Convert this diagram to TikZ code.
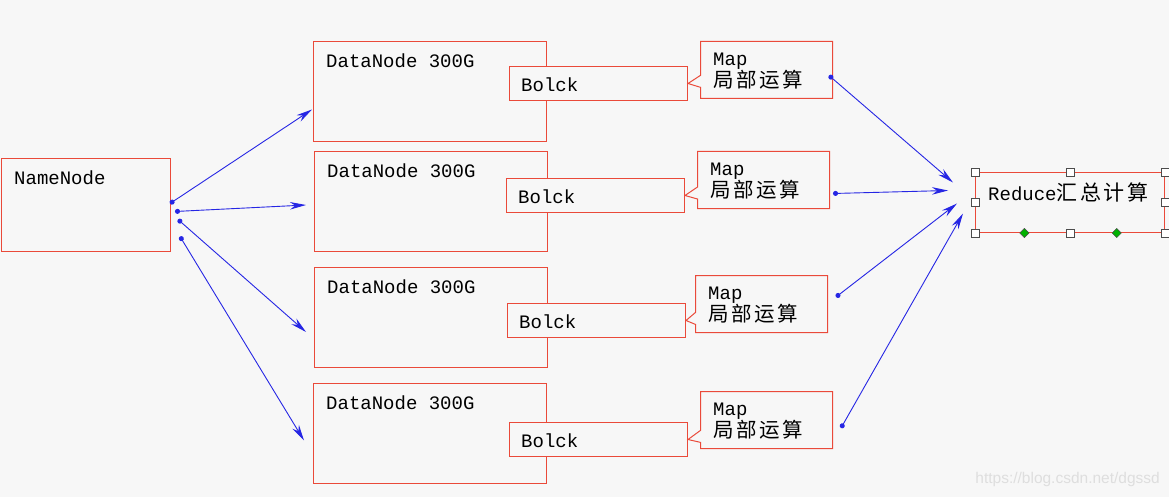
\documentclass[tikz,border=0pt]{standalone}
\usepackage{fontspec}
\newfontfamily\cour{Liberation Mono}
\newfontfamily\cjk[LetterSpace=12]{Noto Sans CJK SC}
\newfontfamily\wmark{Liberation Sans}
\usetikzlibrary{positioning,calc,arrows.meta,shapes.callouts}

\definecolor{boxred}{RGB}{234,74,58}
\definecolor{arrblue}{RGB}{38,38,228}
\definecolor{paper}{RGB}{247,247,247}

\tikzset{
  box/.style={draw=boxred, fill=paper, line width=1pt, inner sep=0pt, anchor=north west},
  mapbox/.style={box, rectangle callout, callout pointer width=12pt},
  txt/.style={anchor=west, inner sep=0pt, font=\cour\fontsize{19}{22}\selectfont},
  zh/.style={anchor=west, inner sep=0pt, font=\cjk\fontsize{20.5}{24}\selectfont},
  conn/.style={arrblue, line width=0.9pt, {Circle[length=5pt]}-{Stealth[length=16pt,width=7.5pt]}},
  handle/.style={draw=black!70, fill=white, line width=0.6pt, minimum size=8pt, inner sep=0pt},
  greenhandle/.style={draw=black!70, fill=green!70!black, line width=0.5pt, minimum size=6.5pt, inner sep=0pt, rotate=45}
}

\begin{document}
\begin{tikzpicture}[x=1pt,y=-1pt]
    \useasboundingbox (0,0) rectangle (1169,497);
    \fill[paper] (0,0) rectangle (1169,497);

    % name node
    \node[box, minimum width=169, minimum height=93] (nn) at (1,158) {};
    \node[txt] (nnt) at ($(nn.north west)+(13,20)$) {NameNode};

    % data nodes with block and map
    \foreach \i/\dx/\dy/\bx/\by/\mx/\my in {1/313/41/509/66/700/41, 2/314/151/506/178/697/151,
                                            3/314/267/507/303/695/275, 4/313/383/509/422/700/391} {
        \node[box, minimum width=233, minimum height=100] (dn\i) at (\dx,\dy) {};
        \node[txt] (dnt\i) at ($(dn\i.north west)+(13,20)$) {DataNode 300G};
        \node[box, minimum width=178, minimum height=34] (blk\i) at (\bx,\by) {};
        \node[txt] (blkt\i) at ($(blk\i.north west)+(12,19)$) {Bolck};
        \node[mapbox, minimum width=132, minimum height=57, callout absolute pointer={(blk\i.east)}] (map\i) at (\mx,\my) {};
        \node[txt] (mapt\i) at ($(map\i.north west)+(13,20)$) {Map};
        \node[zh] (mapz\i) at ($(map\i.north west)+(13,39)$) {局部运算};
    }

    % reduce
    \node[box, minimum width=189, minimum height=60] (red) at (975,172) {};
    \node[txt, font=\fontsize{19}{22}\selectfont] (redt) at ($(red.north west)+(13,20)$) {{\cour Reduce}{\cjk\fontsize{21}{24}\selectfont 汇总计算}};

    \draw[conn] ($(nn.east)+(-1,-1.5)$) -- ($(dn1.west)+(-1,18)$);
    \draw[conn] ($(nn.east)+(4,6.5)$) -- ($(dn2.west)+(-8,3.5)$);
    \draw[conn] ($(nn.east)+(7,14.5)$) -- ($(dn3.west)+(-8,14.5)$);
    \draw[conn] ($(nn.east)+(9,31.5)$) -- ($(dn4.west)+(-9,7)$);

    \draw[conn] ($(map1.east)+(-4,5.5)$) -- ($(red.west)+(-22,-20)$);
    \draw[conn] ($(map2.east)+(3,13.5)$) -- ($(red.west)+(-27,-12)$);
    \draw[conn] ($(map3.east)+(8,-7)$) -- ($(red.west)+(-18,1)$);
    \draw[conn] ($(map4.east)+(8,8)$) -- ($(red.west)+(-12,11)$);

    % selection handles
    \foreach \a/\n in {north west/1, north/2, north east/3, west/4, east/5, south west/6, south/7, south east/8}
        \node[handle] (h\n) at (red.\a) {};
    \node[greenhandle] (g1) at ($(red.south west)!0.26!(red.south east)$) {};
    \node[greenhandle] (g2) at ($(red.south west)!0.746!(red.south east)$) {};

    \node[anchor=east, inner sep=0pt, text=black!13, font=\wmark\fontsize{15.5}{18}\selectfont] (wm) at (1160,479) {https://blog.csdn.net/dgssd};
\end{tikzpicture}
\end{document}
